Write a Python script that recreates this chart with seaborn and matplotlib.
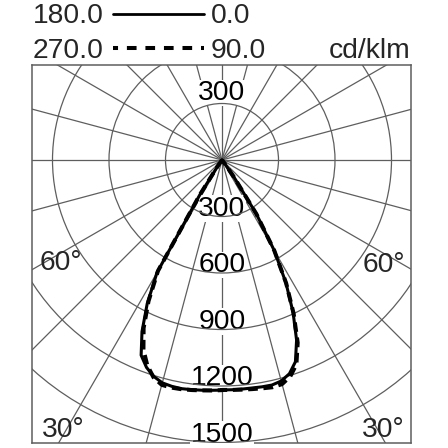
import numpy as np
import pandas as pd
import matplotlib
matplotlib.use("Agg")
import matplotlib.pyplot as plt
from matplotlib.patches import Circle
from matplotlib.lines import Line2D
import seaborn as sns

# ---- data (cd/klm) ----
gamma = [0, 2.5, 5, 7.5, 10, 12.5, 15, 17.5, 20, 22.5, 25, 27.5, 30, 32.5, 35, 37.5, 40]
c0 = [1221, 1221, 1221, 1221, 1223, 1224, 1215, 1190, 1140, 1035, 893, 735, 555, 340, 110, 20, 0]
c180 = [1222, 1224, 1227, 1230, 1233, 1231, 1225, 1205, 1172, 1122, 1005, 860, 690, 220, 40, 0, 0]
c90 = [1221, 1222, 1224, 1227, 1231, 1236, 1232, 1205, 1155, 1050, 900, 738, 555, 340, 110, 20, 0]
c270 = [1222, 1225, 1228, 1232, 1236, 1238, 1236, 1210, 1160, 1090, 985, 845, 680, 220, 40, 0, 0]

radial_ticks = [300, 600, 900, 1200, 1500]
radial_labels = ["300", "600", "900", "1200", "1500"]
angle_labels = ["60°", "30°"]
legend_rows = [("180.0", "0.0"), ("270.0", "90.0")]
unit_label = "cd/klm"

sns.set_theme(style="white")
plt.rcParams["font.family"] = ["Liberation Sans", "DejaVu Sans"]

W = 448
fig = plt.figure(figsize=(4.48, 4.48), dpi=100)
ax = fig.add_axes([32 / W, 5 / W, 379 / W, 378 / W])

s = 56.5 / 300.0  # px per cd/klm
ax.set_xlim(-(222 - 32) / s, (411 - 222) / s)
ax.set_ylim(-(443 - 160) / s, (160 - 65) / s)

grid = "#5e5e5e"
for r in radial_ticks:
    ax.add_patch(Circle((0, 0), r, fill=False, ec=grid, lw=0.9, zorder=4))
L = 4000
for a in np.arange(0, 180, 15):
    t = np.deg2rad(a)
    ax.plot([-L * np.sin(t), L * np.sin(t)], [-L * np.cos(t), L * np.cos(t)],
            color=grid, lw=0.9, zorder=1)

fs = 20.3
for r, lab in zip(radial_ticks, radial_labels):
    ax.text(0, -r + 5, lab, ha="center", va="baseline", fontsize=fs, color="black",
            bbox=dict(fc="white", ec="none", pad=0.3), zorder=3)
ax.text(0, 300 + 18, radial_labels[0], ha="center", va="baseline", fontsize=fs,
        color="black", bbox=dict(fc="white", ec="none", pad=0.3), zorder=3)

# angle labels
ax.text(-966, -584, angle_labels[0], ha="left", va="baseline", fontsize=fs, zorder=3)
ax.text(972, -595, angle_labels[0], ha="right", va="baseline", fontsize=fs, zorder=3)
ax.text(-956, -1471, angle_labels[1], ha="left", va="baseline", fontsize=fs, zorder=3)
ax.text(972, -1471, angle_labels[1], ha="right", va="baseline", fontsize=fs, zorder=3)


def curve(left, right):
    g = np.deg2rad(np.array(gamma, dtype=float))
    lv = np.array(left, dtype=float)
    rv = np.array(right, dtype=float)
    x = np.concatenate([(-lv * np.sin(g))[::-1], rv * np.sin(g)])
    y = np.concatenate([(-lv * np.cos(g))[::-1], -rv * np.cos(g)])
    return pd.DataFrame({"x": x, "y": y})


sns.lineplot(data=curve(c270, c90), x="x", y="y", sort=False, estimator=None,
             color="black", lw=2.9, linestyle=(0, (2.4, 1.4)), ax=ax, zorder=5)
sns.lineplot(data=curve(c180, c0), x="x", y="y", sort=False, estimator=None,
             color="black", lw=2.2, ax=ax, zorder=6)

ax.set_xticks([])
ax.set_yticks([])
ax.set_xlabel("")
ax.set_ylabel("")
for sp in ax.spines.values():
    sp.set_visible(True)
    sp.set_color(grid)
    sp.set_linewidth(1.1)

# legend header
fig.text(33 / W, 1 - 23 / W, legend_rows[0][0], ha="left", va="baseline", fontsize=fs)
fig.text(211 / W, 1 - 23 / W, legend_rows[0][1], ha="left", va="baseline", fontsize=fs)
fig.text(33 / W, 1 - 58 / W, legend_rows[1][0], ha="left", va="baseline", fontsize=fs)
fig.text(211 / W, 1 - 58 / W, legend_rows[1][1], ha="left", va="baseline", fontsize=fs)
fig.text(410 / W, 1 - 58 / W, unit_label, ha="right", va="baseline", fontsize=fs)
fig.add_artist(Line2D([113 / W, 204 / W], [1 - 14.5 / W] * 2, color="black", lw=2.0))
fig.add_artist(Line2D([113 / W, 204 / W], [1 - 48.5 / W] * 2, color="black", lw=2.9,
                      linestyle=(1.15, (2.4, 2.2))))

fig.savefig("out.png", dpi=100)
